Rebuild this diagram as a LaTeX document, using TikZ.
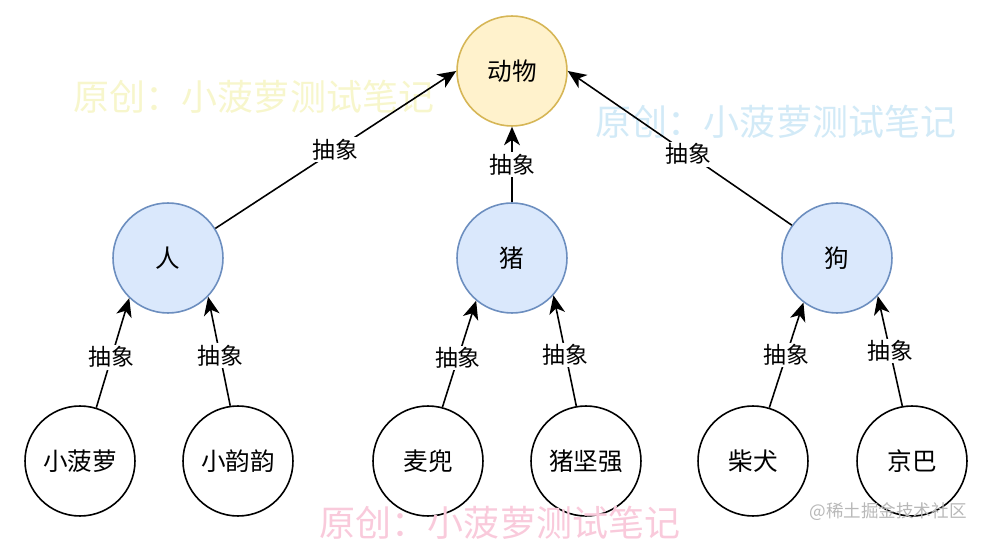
\documentclass[tikz,border=0pt]{standalone}
\usepackage{fontspec}
\setmainfont{Noto Sans CJK SC}
\usetikzlibrary{arrows.meta, positioning}
\definecolor{rootfill}{HTML}{FFF2CC}
\definecolor{rootline}{HTML}{D6B656}
\definecolor{clsfill}{HTML}{DAE8FC}
\definecolor{clsline}{HTML}{6C8EBF}
\definecolor{wmyellow}{HTML}{F7F6CC}
\definecolor{wmblue}{HTML}{D2EAF7}
\definecolor{wmpink}{HTML}{F9CADB}

\begin{document}
\begin{tikzpicture}[x=0.02cm, y=-0.02cm,
  every node/.style={font=\fontsize{14}{16}\selectfont},
  ball/.style={circle, minimum size=2.2cm, inner sep=0pt, line width=0.9pt,
               draw=#1},
  root/.style={ball=rootline, fill=rootfill},
  cls/.style={ball=clsline, fill=clsfill},
  obj/.style={ball=black, fill=white},
  arr/.style={-{Stealth[length=10.5pt, width=9pt, inset=3pt]}, line width=0.9pt, black},
  lbl/.style={pos=0.46, fill=white, inner sep=1pt, font=\fontsize{13}{15}\selectfont},
  wm/.style={font=\fontsize{20.5}{24}\selectfont, text=#1}
]
\useasboundingbox (0,0) rectangle (988,540);

% watermarks
\node[wm=wmyellow] (wmleft)  at (254,97)  {原创：小菠萝测试笔记};
\node[wm=wmblue]   (wmright) at (776,122) {原创：小菠萝测试笔记};

% levels
\node[root] (dongwu) at (512,71)  {动物};

\node[cls]  (ren)    at (168,258) {人};
\node[cls]  (zhu)    at (512,258) {猪};
\node[cls]  (gou)    at (837,258) {狗};

\node[obj]  (xbl)    at (80,461)  {小菠萝};
\node[obj]  (xyy)    at (238,461) {小韵韵};
\node[obj]  (maidou) at (428,461) {麦兜};
\node[obj]  (zjq)    at (586,461) {猪坚强};
\node[obj]  (chai)   at (753,461) {柴犬};
\node[obj]  (jingba) at (912,461) {京巴};

\node[wm=wmpink] (wmbottom) at (500,523) {原创：小菠萝测试笔记};
\node[font=\fontsize{10}{12}\selectfont, text=black!28] (juejin) at (888,512) {@稀土掘金技术社区};

% abstraction arrows
\draw[arr] (ren.32)   -- (dongwu.west)  node[lbl, midway] {抽象};
\draw[arr] (zhu.north) -- (dongwu.south) node[lbl, midway] {抽象};
\draw[arr] (gou.144)  -- (dongwu.east)  node[lbl] {抽象};

\draw[arr] (xbl.73)     -- (ren.226) node[lbl] {抽象};
\draw[arr] (xyy.98)     -- (ren.316) node[lbl] {抽象};
\draw[arr] (maidou.75)  -- (zhu.230) node[lbl] {抽象};
\draw[arr] (zjq.100)    -- (zhu.318) node[lbl] {抽象};
\draw[arr] (chai.73)    -- (gou.233) node[lbl, midway] {抽象};
\draw[arr] (jingba.100) -- (gou.317) node[lbl, midway] {抽象};
\end{tikzpicture}
\end{document}
